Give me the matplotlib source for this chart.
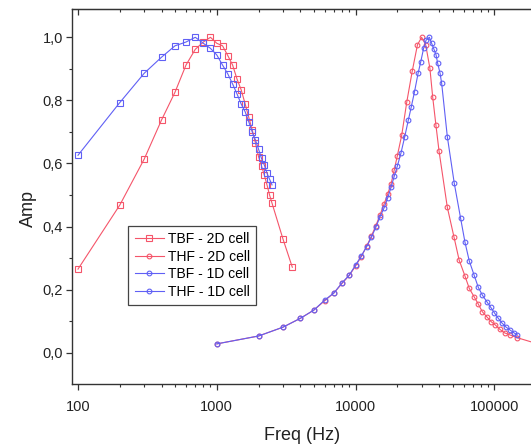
import matplotlib
matplotlib.use("Agg")
import matplotlib.pyplot as plt
from matplotlib.ticker import FixedLocator, FuncFormatter, LogLocator, NullFormatter, MultipleLocator
from matplotlib.lines import Line2D

plt.rcParams['font.family'] = ['Liberation Sans', 'DejaVu Sans']

# ---- data ----
tbf2d_freq = [100, 200, 300, 400, 500, 600, 700, 800, 900, 1000, 1100, 1200, 1300, 1400,
              1500, 1600, 1700, 1800, 1900, 2000, 2100, 2200, 2300, 2400, 2500, 3000, 3500]
tbf2d_amp = [0.265, 0.468, 0.614, 0.738, 0.826, 0.912, 0.962, 0.985, 1.0, 0.981, 0.973, 0.942,
             0.912, 0.867, 0.833, 0.789, 0.746, 0.706, 0.664, 0.621, 0.592, 0.563, 0.532, 0.50,
             0.474, 0.36, 0.271]

tbf1d_freq = [100, 200, 300, 400, 500, 600, 700, 800, 900, 1000, 1100, 1200, 1300, 1400,
              1500, 1600, 1700, 1800, 1900, 2000, 2100, 2200, 2300, 2400, 2500]
tbf1d_amp = [0.626, 0.793, 0.886, 0.937, 0.973, 0.985, 1.0, 0.981, 0.965, 0.944, 0.912, 0.884,
             0.852, 0.82, 0.788, 0.764, 0.732, 0.70, 0.674, 0.645, 0.616, 0.595, 0.569, 0.55, 0.532]

thf2d_freq = [1000, 2000, 3000, 4000, 5000, 6000, 7000, 8000, 9000, 10000, 11000, 12000,
              13000, 14000, 15000, 16000, 17000, 18000, 19000, 20000, 21500, 23400, 25600,
              27900, 29900, 32000, 34300, 35900, 37900, 39900, 45800, 51200, 55700, 61400,
              65900, 71300, 76600, 81800, 88100, 95000, 101500, 109600, 118300, 130000,
              145000, 195000]
thf2d_amp = [0.028, 0.053, 0.081, 0.109, 0.135, 0.165, 0.19, 0.22, 0.245, 0.275, 0.305, 0.337,
             0.37, 0.403, 0.437, 0.47, 0.502, 0.535, 0.58, 0.625, 0.69, 0.796, 0.893,
             0.976, 1.0, 0.976, 0.902, 0.812, 0.722, 0.64, 0.461, 0.366, 0.294, 0.243,
             0.204, 0.178, 0.154, 0.13, 0.114, 0.098, 0.088, 0.074, 0.063, 0.056,
             0.048, 0.031]

thf1d_freq = [1000, 2000, 3000, 4000, 5000, 6000, 7000, 8000, 9000, 10000, 11000, 12000,
              13000, 14000, 15000, 16000, 17000, 18000, 19000, 20000, 21200, 22600, 24000,
              25200, 26600, 28200, 29500, 30900, 32200, 34000, 35300, 36700, 38000, 39000,
              40600, 41700, 45800, 51400, 57000, 61400, 65900, 71300, 76600, 81800, 88100,
              94100, 99800, 106700, 112900, 120700, 129500, 138400, 146300]
thf1d_amp = [0.028, 0.053, 0.081, 0.109, 0.135, 0.167, 0.19, 0.222, 0.246, 0.278, 0.307, 0.336,
             0.366, 0.398, 0.431, 0.458, 0.49, 0.524, 0.56, 0.592, 0.632, 0.685, 0.738,
             0.78, 0.828, 0.886, 0.923, 0.965, 0.991, 1.0, 0.981, 0.962, 0.944, 0.918,
             0.886, 0.854, 0.685, 0.537, 0.428, 0.35, 0.291, 0.247, 0.207, 0.183, 0.162,
             0.144, 0.127, 0.109, 0.095, 0.082, 0.072, 0.063, 0.056]

labels = ["TBF - 2D cell", "THF - 2D cell", "TBF - 1D cell", "THF - 1D cell"]
xtick_vals = [100, 1000, 10000, 100000]
xtick_labels = ["100", "1000", "10000", "100000"]
ytick_vals = [0.0, 0.2, 0.4, 0.6, 0.8, 1.0]

RED = "#F5556A"
BLUE = "#6060F5"

fig = plt.figure(figsize=(5.31, 4.47), dpi=100)
W, H = 531, 447
ax = fig.add_axes([72 / W, 1 - 384 / H, (542 - 72) / W, (384 - 9) / H])

lw = 0.8
kw_sq = dict(marker='s', markersize=3.8, mfc='none', mew=0.8, lw=lw)
kw_ci = dict(marker='o', markersize=3.4, mfc='none', mew=0.8, lw=lw)

ax.plot(tbf2d_freq, tbf2d_amp, color=RED, **kw_sq)
ax.plot(thf2d_freq, thf2d_amp, color=RED, **kw_ci)
ax.plot(tbf1d_freq, tbf1d_amp, color=BLUE, **kw_sq)
ax.plot(thf1d_freq, thf1d_amp, color=BLUE, **kw_ci)

ax.set_xscale('log')
ax.set_xlim(10 ** 1.9568, 10 ** 5.343)
ax.set_ylim(-0.0992, 1.0897)

ax.xaxis.set_major_locator(FixedLocator(xtick_vals))
ax.set_xticklabels(xtick_labels)
ax.xaxis.set_minor_locator(LogLocator(base=10, subs=range(2, 10)))
ax.xaxis.set_minor_formatter(NullFormatter())
ax.yaxis.set_major_locator(FixedLocator(ytick_vals))
ax.yaxis.set_major_formatter(FuncFormatter(lambda v, p: f"{v:.1f}".replace('.', ',')))
ax.yaxis.set_minor_locator(MultipleLocator(0.1))

spine_c = "#333333"
for s in ['left', 'bottom', 'top']:
    ax.spines[s].set_color(spine_c)
    ax.spines[s].set_linewidth(1.0)
ax.spines['right'].set_visible(False)

ax.tick_params(axis='both', which='major', length=4.5, width=0.9, color=spine_c,
               labelsize=10.5, labelcolor="#222222", direction='out')
ax.tick_params(axis='both', which='minor', length=2.5, width=0.8, color=spine_c, direction='out')
ax.tick_params(axis='x', which='major', pad=7)
ax.tick_params(axis='y', which='major', pad=2)

sec = ax.secondary_xaxis('top')
sec.xaxis.set_major_locator(FixedLocator(xtick_vals))
sec.xaxis.set_minor_locator(LogLocator(base=10, subs=range(2, 10)))
sec.xaxis.set_minor_formatter(NullFormatter())
sec.tick_params(which='major', direction='in', length=4.5, width=0.9, color=spine_c, labeltop=False)
sec.tick_params(which='minor', direction='in', length=2.5, width=0.8, color=spine_c)
sec.spines['top'].set_color(spine_c)

ax.set_xlabel("Freq (Hz)", fontsize=13, color="#222222")
ax.set_ylabel("Amp", fontsize=13, color="#222222")
ax.xaxis.set_label_coords(0.489, -0.115)
ax.yaxis.set_label_coords(-0.074, 0.469)

handles = [
    Line2D([], [], color=RED, marker='s', markersize=3.8, mfc='none', mew=0.8, lw=lw),
    Line2D([], [], color=RED, marker='o', markersize=3.4, mfc='none', mew=0.8, lw=lw),
    Line2D([], [], color=BLUE, marker='o', markersize=3.4, mfc='none', mew=0.8, lw=lw),
    Line2D([], [], color=BLUE, marker='o', markersize=3.4, mfc='none', mew=0.8, lw=lw),
]
leg = ax.legend(handles, labels, loc='upper left', bbox_to_anchor=(0.1198, 0.4213),
                borderaxespad=0, fontsize=10, handlelength=2.15, handletextpad=0.25,
                labelspacing=0.25, borderpad=0.45, fancybox=False, framealpha=1,
                edgecolor="#444444")
leg.get_frame().set_linewidth(0.9)

fig.savefig("out.png", dpi=100)
